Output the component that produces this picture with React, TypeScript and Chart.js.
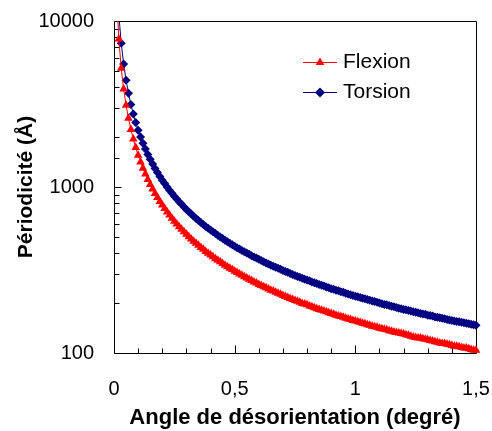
import React, { useEffect, useRef } from 'react';
import { Chart, registerables } from 'chart.js';

Chart.register(...registerables);

const FONT = "'Liberation Sans', Arial, sans-serif";

// Misorientation angle (degrees)
const angles = [
  0.01, 0.02, 0.03, 0.04, 0.05, 0.06, 0.07, 0.08, 0.09, 0.10,
  0.11, 0.12, 0.13, 0.14, 0.15, 0.16, 0.17, 0.18, 0.19, 0.20,
  0.21, 0.22, 0.23, 0.24, 0.25, 0.26, 0.27, 0.28, 0.29, 0.30,
  0.31, 0.32, 0.33, 0.34, 0.35, 0.36, 0.37, 0.38, 0.39, 0.40,
  0.41, 0.42, 0.43, 0.44, 0.45, 0.46, 0.47, 0.48, 0.49, 0.50,
  0.51, 0.52, 0.53, 0.54, 0.55, 0.56, 0.57, 0.58, 0.59, 0.60,
  0.61, 0.62, 0.63, 0.64, 0.65, 0.66, 0.67, 0.68, 0.69, 0.70,
  0.71, 0.72, 0.73, 0.74, 0.75, 0.76, 0.77, 0.78, 0.79, 0.80,
  0.81, 0.82, 0.83, 0.84, 0.85, 0.86, 0.87, 0.88, 0.89, 0.90,
  0.91, 0.92, 0.93, 0.94, 0.95, 0.96, 0.97, 0.98, 0.99, 1.00,
  1.01, 1.02, 1.03, 1.04, 1.05, 1.06, 1.07, 1.08, 1.09, 1.10,
  1.11, 1.12, 1.13, 1.14, 1.15, 1.16, 1.17, 1.18, 1.19, 1.20,
  1.21, 1.22, 1.23, 1.24, 1.25, 1.26, 1.27, 1.28, 1.29, 1.30,
  1.31, 1.32, 1.33, 1.34, 1.35, 1.36, 1.37, 1.38, 1.39, 1.40,
  1.41, 1.42, 1.43, 1.44, 1.45, 1.46, 1.47, 1.48, 1.49, 1.50,
];

// Periodicity (Å) – Flexion
const flexion = [
  15560, 7780, 5187, 3890, 3112, 2593, 2223, 1945, 1729, 1556,
  1415, 1297, 1197, 1111, 1037, 973, 915, 864, 819, 778,
  741, 707, 677, 648, 622, 598, 576, 556, 537, 519,
  502, 486, 472, 458, 445, 432, 421, 409, 399, 389,
  380, 370, 362, 354, 346, 338, 331, 324, 318, 311,
  305, 299, 294, 288, 283, 278, 273, 268, 264, 259,
  255, 251, 247, 243, 239, 236, 232, 229, 226, 222,
  219, 216, 213, 210, 207, 205, 202, 199, 197, 195,
  192, 190, 187, 185, 183, 181, 179, 177, 175, 173,
  171, 169, 167, 166, 164, 162, 160, 159, 157, 156,
  154, 153, 151, 150, 148, 147, 145, 144, 143, 141,
  140, 139, 138, 136, 135, 134, 133, 132, 131, 130,
  129, 128, 126, 125, 124, 123, 123, 122, 121, 120,
  119, 118, 117, 116, 115, 114, 114, 113, 112, 111,
  110, 110, 109, 108, 107, 107, 106, 105, 104, 104,
];

// Periodicity (Å) – Torsion
const torsion = [
  22000, 11000, 7333, 5500, 4400, 3667, 3143, 2750, 2444, 2200,
  2000, 1833, 1692, 1571, 1467, 1375, 1294, 1222, 1158, 1100,
  1048, 1000, 957, 917, 880, 846, 815, 786, 759, 733,
  710, 688, 667, 647, 629, 611, 595, 579, 564, 550,
  537, 524, 512, 500, 489, 478, 468, 458, 449, 440,
  431, 423, 415, 407, 400, 393, 386, 379, 373, 367,
  361, 355, 349, 344, 338, 333, 328, 324, 319, 314,
  310, 306, 301, 297, 293, 289, 286, 282, 278, 275,
  272, 268, 265, 262, 259, 256, 253, 250, 247, 244,
  242, 239, 237, 234, 232, 229, 227, 224, 222, 220,
  218, 216, 214, 212, 210, 208, 206, 204, 202, 200,
  198, 196, 195, 193, 191, 190, 188, 186, 185, 183,
  182, 180, 179, 177, 176, 175, 173, 172, 171, 169,
  168, 167, 165, 164, 163, 162, 161, 159, 158, 157,
  156, 155, 154, 153, 152, 151, 150, 149, 148, 147,
];

const seriesNames = ['Flexion', 'Torsion'];
const xTickLabels = ['0', '0,5', '1', '1,5']; // at 0, 0.5, 1, 1.5
const yTickLabels = ['100', '1000', '10000']; // at 10^2, 10^3, 10^4

const frameAndTicks = {
  id: 'frameAndTicks',
  beforeDatasetsDraw(chart: any) {
    const { ctx, chartArea, scales } = chart;
    const { left, right, top, bottom } = chartArea;
    ctx.save();
    ctx.strokeStyle = '#000';
    ctx.lineWidth = 1;
    ctx.beginPath();
    const L = Math.round(left) + 0.5;
    const R = Math.round(right) + 0.5;
    const T = Math.round(top) + 0.5;
    const B = Math.round(bottom) + 0.5;
    ctx.rect(L, T, R - L, B - T);
    scales.x.ticks.forEach((t: any) => {
      const v = t.value;
      const major = Math.abs(v * 2 - Math.round(v * 2)) < 1e-6;
      const px = Math.round(scales.x.getPixelForValue(v)) + 0.5;
      ctx.moveTo(px, B);
      ctx.lineTo(px, B - (major ? 8 : 5));
    });
    scales.y.ticks.forEach((t: any) => {
      const v = t.value;
      const lg = Math.log10(v);
      const major = Math.abs(lg - Math.round(lg)) < 1e-6;
      const py = Math.round(scales.y.getPixelForValue(v)) + 0.5;
      ctx.moveTo(L, py);
      ctx.lineTo(L + (major ? 7 : 5), py);
    });
    ctx.stroke();
    ctx.restore();
  },
};

function drawMarker(ctx: CanvasRenderingContext2D, style: string, x: number, y: number, r: number, color: string) {
  ctx.beginPath();
  if (style === 'triangle') {
    ctx.moveTo(x, y - r);
    ctx.lineTo(x + r * 0.866, y + r * 0.5);
    ctx.lineTo(x - r * 0.866, y + r * 0.5);
  } else {
    ctx.moveTo(x, y - r);
    ctx.lineTo(x + r, y);
    ctx.lineTo(x, y + r);
    ctx.lineTo(x - r, y);
  }
  ctx.closePath();
  ctx.fillStyle = color;
  ctx.fill();
}

const insideLegend = {
  id: 'insideLegend',
  afterDatasetsDraw(chart: any) {
    const { ctx, chartArea } = chart;
    const x0 = chartArea.left + 189;
    const x1 = x0 + 34;
    ctx.save();
    chart.data.datasets.forEach((ds: any, i: number) => {
      const y = Math.round(chartArea.top + 41 + i * 30) + 0.5;
      ctx.strokeStyle = ds.borderColor;
      ctx.lineWidth = 1;
      ctx.beginPath();
      ctx.moveTo(x0, y);
      ctx.lineTo(x1, y);
      ctx.stroke();
      drawMarker(ctx, ds.pointStyle, (x0 + x1) / 2, y, 5, ds.borderColor);
      ctx.fillStyle = '#000';
      ctx.font = `21px ${FONT}`;
      ctx.textBaseline = 'middle';
      ctx.textAlign = 'left';
      ctx.fillText(ds.label, x1 + 6, y);
    });
    ctx.restore();
  },
};

export default function App() {
  const canvasRef = useRef<HTMLCanvasElement | null>(null);

  useEffect(() => {
    document.body.style.margin = '0';
    const canvas = canvasRef.current;
    if (!canvas) return;
    const chart = new Chart(canvas, {
      type: 'line',
      data: {
        datasets: [
          {
            label: seriesNames[0],
            data: angles.map((a, i) => ({ x: a, y: flexion[i] })),
            borderColor: '#FF0000',
            backgroundColor: '#FF0000',
            borderWidth: 1,
            pointStyle: 'triangle',
            pointRadius: 5,
            pointBorderWidth: 0,
            pointHoverRadius: 5,
            clip: { left: 0, top: 0, right: 6, bottom: 6 },
          },
          {
            label: seriesNames[1],
            data: angles.map((a, i) => ({ x: a, y: torsion[i] })),
            borderColor: '#000080',
            backgroundColor: '#000080',
            borderWidth: 1,
            pointStyle: 'rectRot',
            pointRadius: 4.5,
            pointBorderWidth: 0,
            pointHoverRadius: 4.5,
            clip: { left: 0, top: 0, right: 6, bottom: 6 },
          },
        ],
      },
      options: {
        animation: false,
        responsive: false,
        events: [],
        layout: { padding: { left: 0, right: 16, top: 21, bottom: 0 } },
        plugins: {
          legend: { display: false },
          tooltip: { enabled: false },
        },
        scales: {
          x: {
            type: 'linear',
            min: 0,
            max: 1.5,
            afterFit: (s: any) => {
              s.height = 78;
              s.paddingLeft = 0;
              s.paddingRight = 0;
            },
            grid: { drawOnChartArea: false, drawTicks: false, display: false },
            border: { display: false },
            ticks: {
              stepSize: 0.1,
              autoSkip: false,
              maxRotation: 0,
              padding: 24,
              color: '#000',
              font: { family: FONT, size: 20 },
              callback: (v: any) => {
                const k = Number(v) * 2;
                if (Math.abs(k - Math.round(k)) < 1e-6) return xTickLabels[Math.round(k)] ?? '';
                return '';
              },
            },
            title: {
              display: true,
              text: 'Angle de désorientation (degré)',
              color: '#000',
              font: { family: FONT, size: 22, weight: 'bold' },
              padding: { top: 0, bottom: 0 },
            },
          },
          y: {
            type: 'logarithmic',
            min: 100,
            max: 10000,
            afterFit: (s: any) => {
              s.width = 114;
              s.paddingTop = 0;
              s.paddingBottom = 0;
            },
            grid: { drawOnChartArea: false, drawTicks: false, display: false },
            border: { display: false },
            ticks: {
              autoSkip: false,
              padding: 20,
              color: '#000',
              font: { family: FONT, size: 20 },
              callback: (v: any) => {
                const lg = Math.log10(Number(v));
                if (Math.abs(lg - Math.round(lg)) < 1e-6) return yTickLabels[Math.round(lg) - 2] ?? '';
                return '';
              },
            },
            title: {
              display: true,
              text: 'Périodicité (Å)',
              color: '#000',
              font: { family: FONT, size: 21, weight: 'bold' },
              padding: { top: 14, bottom: 0 },
            },
          },
        },
      },
      plugins: [frameAndTicks, insideLegend],
    } as any);
    return () => chart.destroy();
  }, []);

  return (
    <div style={{ width: 492, height: 431, background: '#fff' }}>
      <canvas ref={canvasRef} width={492} height={431} style={{ display: 'block' }} />
    </div>
  );
}
